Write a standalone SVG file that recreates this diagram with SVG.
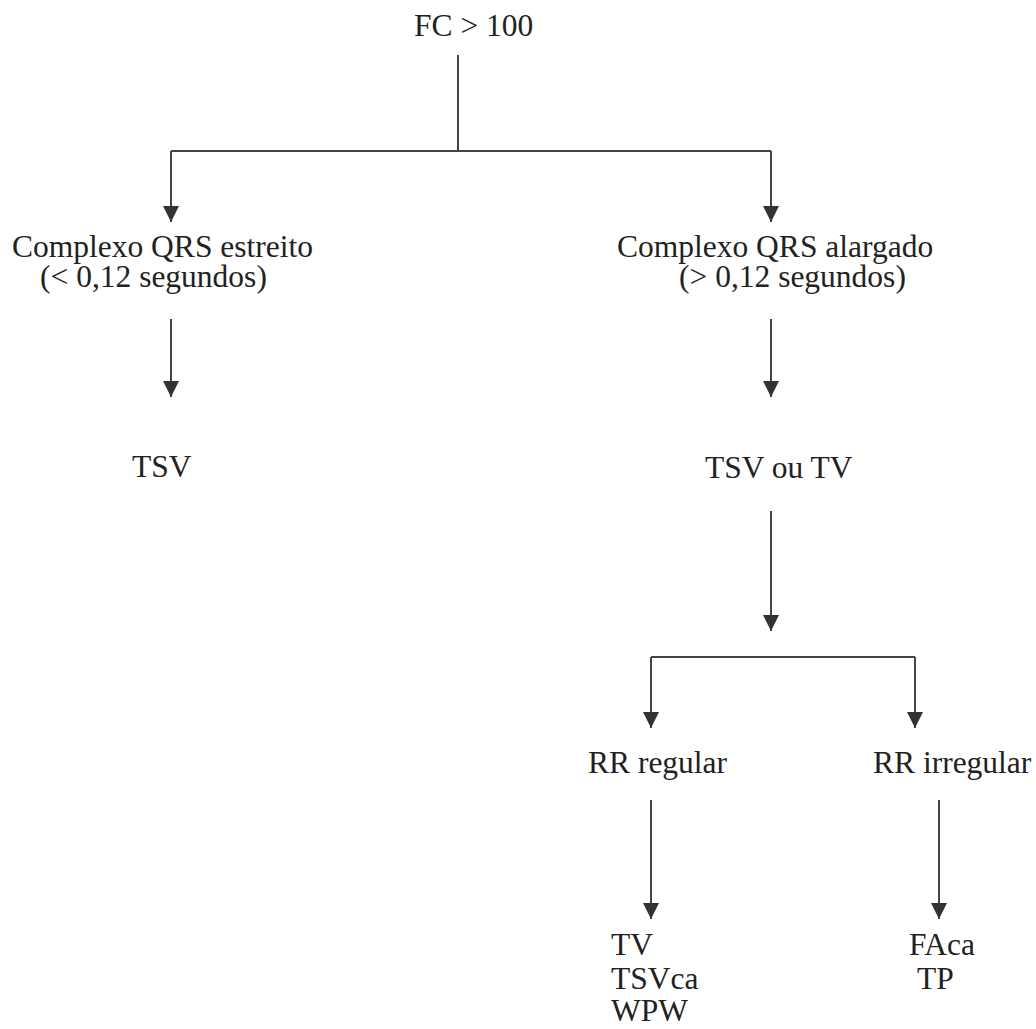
<svg xmlns="http://www.w3.org/2000/svg" width="1036" height="1029" viewBox="0 0 1036 1029">
<defs>
<style>
text{font-family:"Liberation Serif","Times New Roman",serif;font-size:31.5px;fill:#222}
.c{stroke:#444;stroke-width:2;fill:none}
</style>
<marker id="ah" viewBox="0 0 16 16" refX="16" refY="8" markerWidth="16" markerHeight="16" markerUnits="userSpaceOnUse" orient="auto">
<path d="M0,0 L16,8 L0,16 z" fill="#333"/>
</marker>
</defs>
<rect width="1036" height="1029" fill="#fff"/>
<g id="connectors">
<path class="c" d="M458,55 V151"/>
<path class="c" d="M171,151 H771"/>
<path class="c" d="M171,151 V222" marker-end="url(#ah)"/>
<path class="c" d="M771,151 V222" marker-end="url(#ah)"/>
<path class="c" d="M171,319 V397" marker-end="url(#ah)"/>
<path class="c" d="M771,319 V397" marker-end="url(#ah)"/>
<path class="c" d="M771,511 V631" marker-end="url(#ah)"/>
<path class="c" d="M651,657 H915"/>
<path class="c" d="M651,657 V728" marker-end="url(#ah)"/>
<path class="c" d="M915,657 V728" marker-end="url(#ah)"/>
<path class="c" d="M651,800 V919" marker-end="url(#ah)"/>
<path class="c" d="M939,800 V919" marker-end="url(#ah)"/>
</g>
<g id="n-fc"><text x="414" y="36">FC &gt; 100</text></g>
<g id="n-estreito"><text x="12" y="257">Complexo QRS estreito</text><text x="40" y="287">(&lt; 0,12 segundos)</text></g>
<g id="n-alargado"><text x="617" y="257">Complexo QRS alargado</text><text x="679" y="287">(&gt; 0,12 segundos)</text></g>
<g id="n-tsv"><text x="132" y="477">TSV</text></g>
<g id="n-tsvtv"><text x="705" y="478">TSV ou TV</text></g>
<g id="n-regular"><text x="588" y="773">RR regular</text></g>
<g id="n-irregular"><text x="873" y="773">RR irregular</text></g>
<g id="n-reg-out"><text x="611" y="955">TV</text><text x="611" y="989">TSVca</text><text x="611" y="1021">WPW</text></g>
<g id="n-irr-out"><text x="909" y="955">FAca</text><text x="917" y="989">TP</text></g>
</svg>
